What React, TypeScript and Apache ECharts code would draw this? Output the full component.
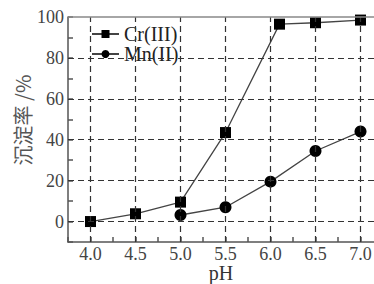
import React, { useEffect, useRef } from "react";
import * as echarts from "echarts";

const crData: [number, number][] = [
  [4.0, 0],
  [4.5, 3.8],
  [5.0, 9.5],
  [5.5, 43.5],
  [6.1, 96.5],
  [6.5, 97.2],
  [7.0, 98.5],
];
const mnData: [number, number][] = [
  [5.0, 3.2],
  [5.5, 7],
  [6.0, 19.5],
  [6.5, 34.5],
  [7.0, 44],
];
const yGridValues = [0, 20, 40, 60, 80];
const xGridValues = [4.0, 4.5, 5.0, 5.5, 6.0, 6.5, 7.0];
const seriesNames = ["Cr(III)", "Mn(II)"];
const yAxisTitle = "沉淀率 /%";
const xAxisTitle = "pH";

const SERIF = "'Liberation Serif', 'DejaVu Serif', serif";

export default function App() {
  const ref = useRef<HTMLDivElement>(null);
  useEffect(() => {
    if (!ref.current) return;
    const chart = echarts.init(ref.current, null, { renderer: "svg" });
    const dashed = { type: [6, 4] as any, color: "#333", width: 1.2 };
    chart.setOption({
      animation: false,
      grid: { left: 68, right: 0, top: 17, bottom: 42, outerBoundsMode: "none", containLabel: false },
      legend: {
        orient: "vertical",
        left: 86,
        top: 19,
        itemWidth: 27,
        itemHeight: 10,
        itemGap: 0,
        data: seriesNames,
        textStyle: { fontFamily: SERIF, fontSize: 20, color: "#222", lineHeight: 20 },
      },
      graphic: [
        {
          type: "text",
          x: 22,
          y: 120,
          rotation: Math.PI / 2,
          style: {
            text: yAxisTitle,
            font: "20px 'Noto Sans CJK SC'",
            fill: "#555",
            textAlign: "center",
            textVerticalAlign: "middle",
          },
        },
      ],
      xAxis: {
        type: "value",
        min: 3.75,
        max: 7.15,
        interval: 0.25,
        name: xAxisTitle,
        nameLocation: "middle",
        nameGap: 21,
        nameMoveOverlap: false,
        nameTextStyle: { fontFamily: SERIF, fontSize: 20, color: "#333", lineHeight: 20 },
        axisLine: { show: true, onZero: false, lineStyle: { color: "#555", width: 1.5 } },
        axisTick: { show: true, inside: true, length: 5, lineStyle: { color: "#555", width: 1.5 } },
        axisLabel: {
          fontFamily: SERIF,
          fontSize: 18,
          color: "#444",
          margin: 3,
          showMaxLabel: false,
          formatter: (v: number) => (Math.abs(v * 2 - Math.round(v * 2)) < 1e-6 ? v.toFixed(1) : ""),
        },
        splitLine: { show: false },
      },
      yAxis: {
        type: "value",
        min: -10,
        max: 100,
        interval: 10,
        axisLine: { show: true, lineStyle: { color: "#555", width: 1.5 } },
        axisTick: { show: true, inside: true, length: 5, lineStyle: { color: "#555", width: 1.5 } },
        axisLabel: {
          fontFamily: SERIF,
          fontSize: 18,
          color: "#444",
          margin: 4,
          formatter: (v: number) => (v % 20 === 0 ? String(v) : ""),
        },
        splitLine: { show: false },
      },
      series: [
        {
          type: "line",
          data: [],
          silent: true,
          markLine: {
            silent: true,
            symbol: "none",
            label: { show: false },
            lineStyle: dashed,
            data: [
              ...yGridValues.map((v) => ({ yAxis: v })),
              ...xGridValues.map((v) => ({ xAxis: v })),
              { yAxis: 100, lineStyle: { type: "solid", color: "#888", width: 1.5 } },
            ],
          },
        },
        {
          name: seriesNames[0],
          type: "line",
          data: crData,
          symbol: "rect",
          symbolSize: 11,
          itemStyle: { color: "#000" },
          lineStyle: { color: "#444", width: 1.3 },
        },
        {
          name: seriesNames[1],
          type: "line",
          data: mnData,
          symbol: "circle",
          symbolSize: 12,
          itemStyle: { color: "#000" },
          lineStyle: { color: "#444", width: 1.3 },
        },
      ],
    });
    return () => chart.dispose();
  }, []);
  return <div ref={ref} style={{ width: 374, height: 284, position: "fixed", left: 0, top: 0, background: "#fff" }} />;
}
